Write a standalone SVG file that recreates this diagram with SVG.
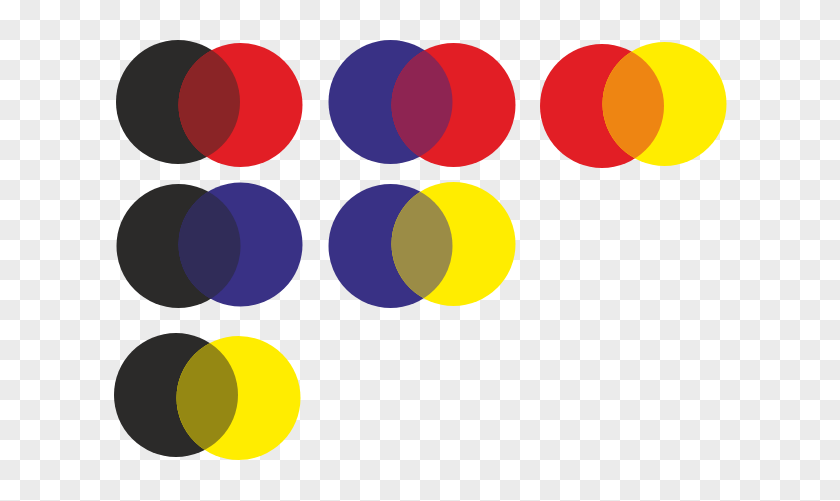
<svg xmlns="http://www.w3.org/2000/svg" width="840" height="501" viewBox="0 0 840 501">
<defs>
<pattern id="chk" width="40" height="40" patternUnits="userSpaceOnUse">
<rect width="40" height="40" fill="#ffffff"/>
<rect x="20" y="0" width="20" height="20" fill="#ebebeb"/>
<rect x="0" y="20" width="20" height="20" fill="#ebebeb"/>
</pattern>
<style>
.k{fill:#2b2a29}.r{fill:#e21e25}.b{fill:#393185}.y{fill:#ffed00}
</style>
<clipPath id="c1"><circle cx="178" cy="102" r="62"/></clipPath>
<clipPath id="c2"><circle cx="390.5" cy="102" r="62"/></clipPath>
<clipPath id="c3"><circle cx="602" cy="106" r="62"/></clipPath>
<clipPath id="c4"><circle cx="178.5" cy="246" r="62"/></clipPath>
<clipPath id="c5"><circle cx="390.5" cy="246" r="62"/></clipPath>
<clipPath id="c6"><circle cx="176" cy="395" r="62"/></clipPath>
</defs>
<rect width="840" height="501" fill="url(#chk)"/>
<g id="black-red">
<circle class="k" cx="178" cy="102" r="62"/>
<circle class="r" cx="240.5" cy="105" r="62"/>
<circle cx="240.5" cy="105" r="62" fill="#8a2426" clip-path="url(#c1)"/>
</g>
<g id="blue-red">
<circle class="b" cx="390.5" cy="102" r="62"/>
<circle class="r" cx="453.5" cy="105" r="62"/>
<circle cx="453.5" cy="105" r="62" fill="#8e2452" clip-path="url(#c2)"/>
</g>
<g id="red-yellow">
<circle class="r" cx="602" cy="106" r="62"/>
<circle class="y" cx="664.5" cy="104" r="62"/>
<circle cx="664.5" cy="104" r="62" fill="#ee8512" clip-path="url(#c3)"/>
</g>
<g id="black-blue">
<circle class="k" cx="178.5" cy="246" r="62"/>
<circle class="b" cx="240.5" cy="244.5" r="62"/>
<circle cx="240.5" cy="244.5" r="62" fill="#302c58" clip-path="url(#c4)"/>
</g>
<g id="blue-yellow">
<circle class="b" cx="390.5" cy="246" r="62"/>
<circle class="y" cx="453.5" cy="244" r="62"/>
<circle cx="453.5" cy="244" r="62" fill="#9b8c46" clip-path="url(#c5)"/>
</g>
<g id="black-yellow">
<circle class="k" cx="176" cy="395" r="62"/>
<circle class="y" cx="238.5" cy="398" r="62"/>
<circle cx="238.5" cy="398" r="62" fill="#958813" clip-path="url(#c6)"/>
</g>
</svg>
